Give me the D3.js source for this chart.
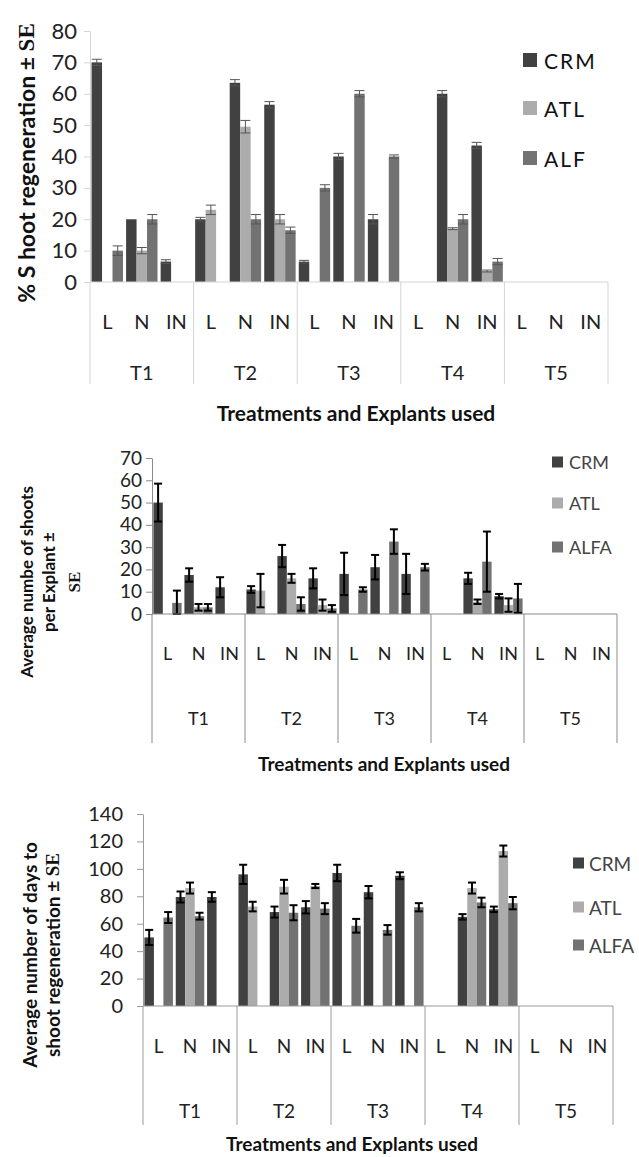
<!DOCTYPE html>
<html>
<head>
<meta charset="utf-8">
<script src="https://cdn.jsdelivr.net/npm/d3@7/dist/d3.min.js"></script>
<style>
  body { margin: 0; background: #fff; }
  svg { display: block; font-family: Lato, "Open Sans", sans-serif; }
</style>
</head>
<body>
<div id="container"></div>
<script>
// categories
const treatments = ["T1", "T2", "T3", "T4", "T5"];
const explants = ["L", "N", "IN"];
const series = ["CRM", "ATL", "ALF"];

// panel 1: % shoot regeneration (order T1 L,N,IN ... T5 L,N,IN)
const crm1 = [70, 20, 6.5, 20, 63.5, 56.5, 6.5, 40, 20, 0, 60, 43.5, 0, 0, 0];
const atl1 = [0, 10, 0, 23, 49.5, 20, 0, 0, 0, 0, 17, 3.5, 0, 0, 0];
const alf1 = [10, 20, 0, 0, 20, 16.5, 30, 60, 40, 0, 20, 6.5, 0, 0, 0];
const crm1Err = [1, 0, 0.6, 0.6, 1, 1, 0.4, 1, 1.5, 0, 1, 1, 0, 0, 0];
const atl1Err = [0, 1, 0, 1.5, 2, 1.5, 0, 0, 0, 0, 0.3, 0.3, 0, 0, 0];
const alf1Err = [1.5, 1.5, 0, 0, 1.5, 1, 1, 1, 0.5, 0, 1.5, 1, 0, 0, 0];
const ticks1 = [0, 10, 20, 30, 40, 50, 60, 70, 80];

// panel 2: average number of shoots per explant
const crm2 = [50, 17.5, 12, 11, 26, 16, 18, 21, 18, 0, 16, 8, 0, 0, 0];
const atl2 = [0, 3, 0, 10.5, 16, 4, 0, 0, 0, 0, 5.5, 4, 0, 0, 0];
const alf2 = [5, 3, 0, 0, 4.5, 2.5, 11, 32.5, 21, 0, 23.5, 7, 0, 0, 0];
const crm2Err = [8.5, 3, 4.5, 1.5, 5, 4.5, 9.5, 5.5, 9, 0, 2.5, 1, 0, 0, 0];
const atl2Err = [0, 1.5, 0, 7.5, 2, 2.5, 0, 0, 0, 0, 1, 3, 0, 0, 0];
const alf2Err = [5.5, 1.5, 0, 0, 3, 1.5, 1, 5.5, 1.5, 0, 13.5, 6.5, 0, 0, 0];
const ticks2 = [0, 10, 20, 30, 40, 50, 60, 70];

// panel 3: average number of days to shoot regeneration
const crm3 = [50, 79.5, 79.5, 96, 68.5, 72, 97, 83, 95, 0, 65, 70.5, 0, 0, 0];
const atl3 = [0, 86, 0, 72.5, 87, 87.5, 0, 0, 0, 0, 86, 113, 0, 0, 0];
const alf3 = [64.5, 65.5, 0, 0, 68, 71, 58.5, 55.5, 72, 0, 75.5, 75, 0, 0, 0];
const crm3Err = [5.5, 4, 3.5, 7, 4, 4.5, 6, 4.5, 2.5, 0, 2, 2, 0, 0, 0];
const atl3Err = [0, 4, 0, 3.5, 5, 1.5, 0, 0, 0, 0, 4, 4, 0, 0, 0];
const alf3Err = [4, 2.5, 0, 0, 5.5, 4, 5, 3.5, 3, 0, 3.5, 4.5, 0, 0, 0];
const ticks3 = [0, 20, 40, 60, 80, 100, 120, 140];

const colors = { CRM: "#414141", ATL: "#acacac", ALF: "#727272" };

let svg = d3.select("#container").append("svg")
  .attr("width", 639)
  .attr("height", 1157);

// one panel of the figure
function drawPanel(cfg, vals, errs, ticks, legendNames) {
  let cats = [];
  treatments.forEach(t => explants.forEach(e => cats.push(t + "|" + e)));

  let x = d3.scaleBand().domain(cats).range([cfg.x0, cfg.x1]);
  let xs = d3.scaleBand().domain(series).range([0, x.bandwidth()]).paddingOuter(0.15);
  let y = d3.scaleLinear().domain([0, ticks[ticks.length - 1]]).range([cfg.y0, cfg.yTop]);

  let g = svg.append("g");

  // bars
  series.forEach((s, i) => {
    g.append("g").selectAll("rect")
      .data(cats.map((c, j) => ({ c: c, v: vals[i][j], e: errs[i][j] })).filter(d => d.v > 0))
      .enter()
      .append("rect")
      .attr("x", d => x(d.c) + xs(s))
      .attr("y", d => y(d.v))
      .attr("width", xs.bandwidth())
      .attr("height", d => y(0) - y(d.v))
      .attr("fill", colors[s]);
  });

  // error bars
  series.forEach((s, i) => {
    let eg = g.append("g").selectAll("g")
      .data(cats.map((c, j) => ({ c: c, v: vals[i][j], e: errs[i][j] })).filter(d => d.e > 0))
      .enter()
      .append("g")
      .attr("stroke", cfg.errColor)
      .attr("stroke-width", cfg.errWidth);
    let cx = d => x(d.c) + xs(s) + xs.bandwidth() / 2;
    eg.append("line")
      .attr("x1", cx).attr("x2", cx)
      .attr("y1", d => y(Math.max(0, d.v - d.e)))
      .attr("y2", d => y(d.v + d.e));
    [1, -1].forEach(k => {
      eg.append("line")
        .attr("x1", d => cx(d) - cfg.cap).attr("x2", d => cx(d) + cfg.cap)
        .attr("y1", d => y(Math.max(0, d.v + k * d.e)))
        .attr("y2", d => y(Math.max(0, d.v + k * d.e)));
    });
  });

  // y axis
  let ax = g.append("g")
    .attr("transform", "translate(" + cfg.x0 + ",0)")
    .call(d3.axisLeft(y).tickValues(ticks).tickSize(6).tickSizeOuter(0).tickPadding(cfg.tickPad));
  ax.selectAll("path, line").attr("stroke", cfg.axisColor);
  ax.selectAll("text")
    .style("font-size", cfg.tickFont + "px")
    .style("font-family", "Lato, sans-serif")
    .attr("fill", "#222");

  // baseline and treatment dividers
  g.append("line")
    .attr("x1", cfg.x0).attr("x2", cfg.x1)
    .attr("y1", y(0)).attr("y2", y(0))
    .attr("stroke", cfg.axisColor);
  let bounds = treatments.map(t => x(t + "|L")).concat([cfg.x1]);
  g.selectAll(".div").data(bounds).enter()
    .append("line")
    .attr("x1", d => d).attr("x2", d => d)
    .attr("y1", y(0)).attr("y2", cfg.divBottom)
    .attr("stroke", cfg.axisColor);

  // explant and treatment labels
  g.append("g").selectAll("text").data(cats).enter()
    .append("text")
    .attr("x", d => x(d) + x.bandwidth() / 2)
    .attr("y", cfg.catY)
    .attr("text-anchor", "middle")
    .attr("dominant-baseline", "central")
    .style("font-size", cfg.catFont + "px")
    .attr("fill", "#222")
    .text(d => d.split("|")[1]);
  g.append("g").selectAll("text").data(treatments).enter()
    .append("text")
    .attr("x", d => x(d + "|N") + x.bandwidth() / 2)
    .attr("y", cfg.trtY)
    .attr("text-anchor", "middle")
    .attr("dominant-baseline", "central")
    .style("font-size", cfg.catFont + "px")
    .attr("fill", "#222")
    .text(d => d);

  // x title
  g.append("text")
    .attr("x", cfg.xTitleX)
    .attr("y", cfg.xTitleY)
    .attr("text-anchor", "middle")
    .attr("dominant-baseline", "central")
    .style("font-size", cfg.xTitleFont + "px")
    .style("font-weight", "bold")
    .attr("fill", "#111")
    .text("Treatments and Explants used");

  // y title (rotated, one or more lines)
  cfg.yTitle.forEach(line => {
    let t = g.append("text")
      .attr("transform", "translate(" + line.x + "," + cfg.yTitleY + ") rotate(-90)")
      .attr("text-anchor", "middle")
      .attr("dominant-baseline", "central")
      .style("font-size", cfg.yTitleFont + "px")
      .style("font-weight", "bold")
      .attr("fill", "#111");
    t.append("tspan").text(line.text);
    if (line.se) {
      t.append("tspan")
        .style("font-family", "'Liberation Serif', serif")
        .text(line.se);
    }
  });

  // legend
  let lg = g.append("g").selectAll("g").data(series).enter()
    .append("g")
    .attr("transform", (d, i) => "translate(" + cfg.legX + "," + cfg.legY[i] + ")");
  lg.append("rect")
    .attr("x", 0).attr("y", -cfg.legBox / 2)
    .attr("width", cfg.legBox).attr("height", cfg.legBox)
    .attr("fill", d => colors[d]);
  lg.append("text")
    .attr("x", cfg.legBox + cfg.legGap)
    .attr("y", 0)
    .attr("dominant-baseline", "central")
    .style("font-size", cfg.legFont + "px")
    .style("letter-spacing", cfg.legSpacing + "px")
    .attr("fill", cfg.legColor)
    .text((d, i) => legendNames[i]);
}

drawPanel({
  x0: 90, x1: 608, y0: 282, yTop: 31,
  tickPad: 7, tickFont: 22, axisColor: "#d4d4d4",
  errColor: "#555", errWidth: 1, cap: 5,
  divBottom: 384, catY: 321, trtY: 372, catFont: 20,
  xTitleX: 356, xTitleY: 412, xTitleFont: 21,
  yTitleY: 163, yTitleFont: 23,
  yTitle: [{ x: 26, text: "% S hoot regeneration ± ", se: "SE" }],
  legX: 523, legY: [60, 108, 158], legBox: 14, legGap: 7, legFont: 21, legSpacing: 2, legColor: "#111"
}, [crm1, atl1, alf1], [crm1Err, atl1Err, alf1Err], ticks1, ["CRM", "ATL", "ALF"]);

drawPanel({
  x0: 152, x1: 617, y0: 614, yTop: 458,
  tickPad: 4, tickFont: 19, axisColor: "#8a8a8a",
  errColor: "#000", errWidth: 2, cap: 4,
  divBottom: 743, catY: 653, trtY: 718, catFont: 18,
  xTitleX: 384, xTitleY: 763, xTitleFont: 19,
  yTitleY: 582, yTitleFont: 17,
  yTitle: [{ x: 26, text: "Average numbe of shoots" }, { x: 48, text: "per Explant ±" }, { x: 74, text: "", se: "SE" }],
  legX: 552, legY: [462, 503, 547], legBox: 11, legGap: 6, legFont: 18, legSpacing: 0, legColor: "#444"
}, [crm2, atl2, alf2], [crm2Err, atl2Err, alf2Err], ticks2, ["CRM", "ATL", "ALFA"]);

drawPanel({
  x0: 143, x1: 613, y0: 1006, yTop: 814,
  tickPad: 14, tickFont: 20, axisColor: "#9a9a9a",
  errColor: "#000", errWidth: 2, cap: 4,
  divBottom: 1125, catY: 1045, trtY: 1110, catFont: 19,
  xTitleX: 352, xTitleY: 1143, xTitleFont: 19,
  yTitleY: 955, yTitleFont: 19,
  yTitle: [{ x: 29, text: "Average number of days to" }, { x: 52, text: "shoot regeneration ± ", se: "SE" }],
  legX: 573, legY: [863, 907, 945], legBox: 11, legGap: 5, legFont: 19, legSpacing: 0, legColor: "#444"
}, [crm3, atl3, alf3], [crm3Err, atl3Err, alf3Err], ticks3, ["CRM", "ATL", "ALFA"]);
</script>
</body>
</html>
